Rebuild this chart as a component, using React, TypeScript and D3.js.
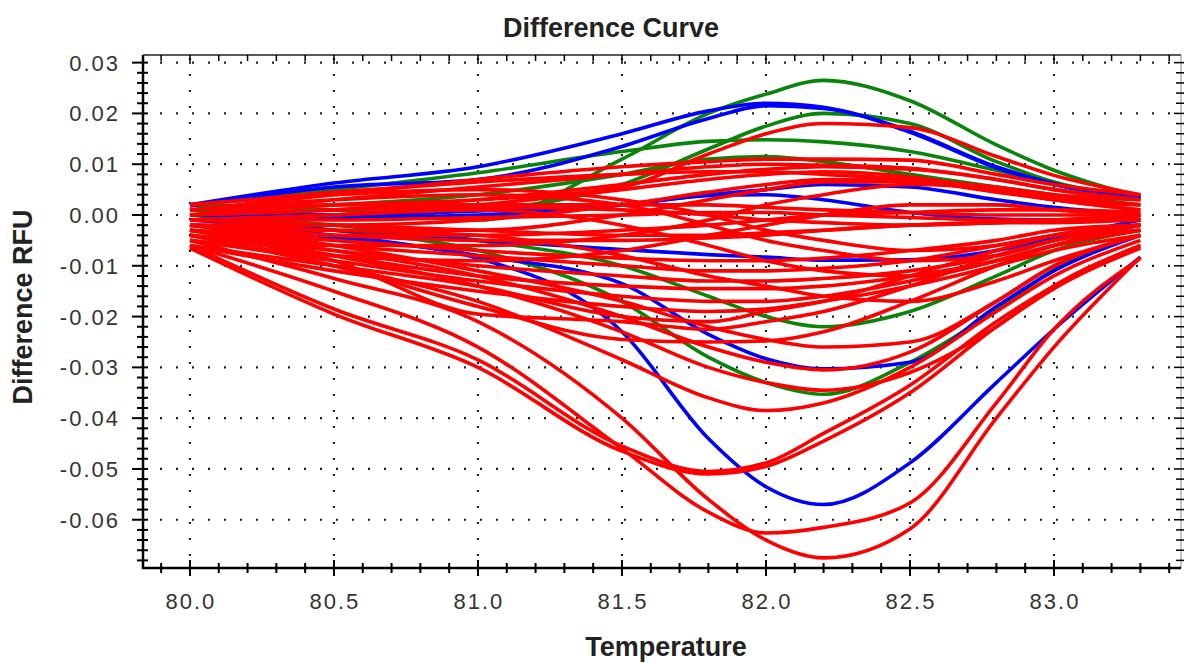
import React from 'react';
import * as d3 from 'd3';

const TEMPS = [80.0, 80.5, 81.0, 81.5, 81.8, 82.0, 82.2, 82.5, 82.8, 83.0, 83.3];

const GREEN_SERIES: number[][] = [
  [0.002, 0.001, -0.001, 0.011, 0.020, 0.0238, 0.0265, 0.0225, 0.0138, 0.0088, 0.0035],
  [0.001, 0.0, 0.001, 0.006, 0.013, 0.0175, 0.020, 0.018, 0.0105, 0.0065, 0.0035],
  [0.002, 0.005, 0.0083, 0.0125, 0.0145, 0.0148, 0.0144, 0.0125, 0.0088, 0.0062, 0.0035],
  [0.001, 0.002, 0.004, 0.008, 0.011, 0.0115, 0.0105, 0.008, 0.0055, 0.004, 0.002],
  [0.0, -0.003, -0.007, -0.017, -0.028, -0.033, -0.0353, -0.029, -0.0187, -0.0108, -0.004],
  [0.0, -0.002, -0.005, -0.010, -0.016, -0.020, -0.022, -0.019, -0.012, -0.007, -0.003],
];

const BLUE_SERIES: number[][] = [
  [0.002, 0.0063, 0.0095, 0.016, 0.0205, 0.022, 0.0212, 0.0165, 0.0095, 0.0062, 0.0035],
  [0.0018, 0.0055, 0.0070, 0.0135, 0.019, 0.0215, 0.021, 0.0163, 0.0093, 0.006, 0.0033],
  [-0.002, -0.0045, -0.0085, -0.023, -0.044, -0.0535, -0.057, -0.0488, -0.033, -0.0225, -0.0083],
  [-0.002, -0.004, -0.008, -0.0135, -0.0235, -0.0283, -0.0303, -0.029, -0.018, -0.011, -0.004],
  [0.0, -0.0005, 0.0, 0.002, 0.004, 0.005, 0.006, 0.0055, 0.003, 0.0015, 0.0],
  [-0.001, -0.003, -0.005, -0.0068, -0.0078, -0.0083, -0.0089, -0.0088, -0.007, -0.0045, -0.001],
  [0.0, 0.0, 0.0008, 0.002, 0.0038, 0.004, 0.003, 0.0005, -0.0008, -0.001, -0.001],
];

const RED_SERIES: number[][] = [
  // deep curves
  [-0.005, -0.0125, -0.021, -0.040, -0.056, -0.064, -0.0675, -0.0618, -0.040, -0.026, -0.0083],
  [-0.006, -0.015, -0.026, -0.046, -0.0585, -0.0626, -0.0615, -0.0567, -0.037, -0.0225, -0.0085],
  [-0.006, -0.0185, -0.0285, -0.0455, -0.0505, -0.0488, -0.043, -0.0335, -0.021, -0.014, -0.006],
  [-0.0065, -0.0195, -0.030, -0.0465, -0.051, -0.0495, -0.0445, -0.035, -0.022, -0.0145, -0.0065],
  [-0.004, -0.010, -0.017, -0.0285, -0.036, -0.0385, -0.037, -0.030, -0.019, -0.012, -0.005],
  [-0.003, -0.008, -0.014, -0.023, -0.030, -0.033, -0.0345, -0.031, -0.022, -0.014, -0.006],
  [-0.003, -0.007, -0.012, -0.020, -0.026, -0.029, -0.0305, -0.027, -0.017, -0.010, -0.004],
  [-0.002, -0.006, -0.011, -0.017, -0.022, -0.0245, -0.026, -0.025, -0.017, -0.010, -0.004],
  [-0.004, -0.010, -0.018, -0.0245, -0.025, -0.0248, -0.023, -0.017, -0.010, -0.006, -0.002],
  [-0.003, -0.009, -0.0195, -0.021, -0.0225, -0.021, -0.019, -0.014, -0.008, -0.005, -0.002],
  // upper red
  [0.0, 0.002, 0.003, 0.0055, 0.012, 0.016, 0.018, 0.0172, 0.0115, 0.0078, 0.004],
  // middle bundle
  [0.001, 0.004, 0.007, 0.0095, 0.0105, 0.011, 0.011, 0.0108, 0.008, 0.006, 0.004],
  [0.0, 0.003, 0.0055, 0.008, 0.0095, 0.010, 0.0098, 0.0092, 0.007, 0.005, 0.003],
  [0.0, 0.001, 0.003, 0.006, 0.008, 0.009, 0.0095, 0.009, 0.007, 0.005, 0.003],
  [-0.001, 0.0, 0.002, 0.005, 0.007, 0.008, 0.0085, 0.0075, 0.005, 0.0035, 0.002],
  [-0.002, -0.002, -0.001, 0.002, 0.0045, 0.006, 0.007, 0.007, 0.005, 0.003, 0.002],
  [-0.002, -0.003, -0.003, 0.0, 0.003, 0.005, 0.0065, 0.0065, 0.0045, 0.003, 0.001],
  [0.001, 0.002, 0.002, 0.002, 0.002, 0.0015, 0.001, 0.0005, 0.0, 0.0, 0.0],
  [0.0, 0.001, 0.0015, 0.001, 0.0, -0.001, -0.0015, -0.002, -0.0015, -0.001, 0.0],
  [-0.001, -0.001, -0.0005, 0.0, 0.0005, 0.0005, 0.0, -0.0005, -0.001, -0.001, -0.001],
  [-0.001, -0.002, -0.003, -0.004, -0.004, -0.0035, -0.003, -0.002, -0.0015, -0.001, -0.0005],
  [-0.002, -0.004, -0.005, -0.005, -0.0045, -0.004, -0.003, -0.002, -0.0015, -0.0015, -0.001],
  [-0.003, -0.005, -0.007, -0.0085, -0.009, -0.009, -0.0085, -0.007, -0.005, -0.003, -0.002],
  [-0.003, -0.006, -0.008, -0.010, -0.011, -0.011, -0.0105, -0.009, -0.006, -0.004, -0.002],
  [-0.004, -0.007, -0.010, -0.012, -0.013, -0.013, -0.0125, -0.011, -0.008, -0.005, -0.003],
  [-0.004, -0.008, -0.012, -0.014, -0.0145, -0.0145, -0.014, -0.012, -0.009, -0.006, -0.003],
  [-0.005, -0.009, -0.013, -0.016, -0.017, -0.017, -0.016, -0.013, -0.009, -0.006, -0.003],
  [-0.004, -0.006, -0.006, -0.004, -0.001, 0.002, 0.004, 0.006, 0.005, 0.003, 0.001],
  [-0.005, -0.008, -0.009, -0.007, -0.004, -0.002, 0.0, 0.002, 0.002, 0.001, 0.0],
  [0.002, 0.004, 0.005, 0.003, 0.0, -0.003, -0.005, -0.007, -0.006, -0.004, -0.002],
  [0.001, 0.003, 0.004, 0.002, -0.002, -0.005, -0.007, -0.009, -0.008, -0.005, -0.002],
  [-0.001, 0.0, 0.001, -0.002, -0.006, -0.009, -0.011, -0.012, -0.009, -0.006, -0.003],
  [-0.002, -0.003, -0.004, -0.008, -0.012, -0.014, -0.016, -0.017, -0.013, -0.009, -0.004],
  [-0.006, -0.011, -0.015, -0.018, -0.019, -0.0185, -0.017, -0.014, -0.010, -0.007, -0.004],
  [-0.003, -0.004, -0.004, -0.003, -0.002, -0.001, 0.0, 0.0005, 0.001, 0.001, 0.0005],
  [0.002, 0.0045, 0.0065, 0.008, 0.0085, 0.0085, 0.008, 0.007, 0.0055, 0.004, 0.003],
  [-0.006, -0.010, -0.014, -0.020, -0.021, -0.019, -0.017, -0.012, -0.007, -0.004, -0.002],
];

const X_TICKS = [80.0, 80.5, 81.0, 81.5, 82.0, 82.5, 83.0];
const Y_TICKS = [0.03, 0.02, 0.01, 0.0, -0.01, -0.02, -0.03, -0.04, -0.05, -0.06];
const X_MINOR = d3.range(799, 835).map((v) => v / 10);
const Y_MINOR = d3.range(-34, 16).map((v) => v * 0.002);

const TITLE = 'Difference Curve';
const X_LABEL = 'Temperature';
const Y_LABEL = 'Difference RFU';

const W = 1186;
const H = 663;
const L = 143;
const R = 1181;
const T = 55;
const B = 568;

export default function App() {
  const x = d3.scaleLinear().domain([79.837, 83.441]).range([L, R]);
  const y = d3.scaleLinear().domain([-0.0695, 0.0315]).range([B, T]);
  const line = d3
    .line<number>()
    .x((_, i) => x(TEMPS[i]))
    .y((d) => y(d))
    .curve(d3.curveMonotoneX);

  const fmtX = d3.format('.1f');
  const f2 = d3.format('.2f');
  const fmtY = (v: number) => f2(v).replace('\u2212', '-');
  const tickFont = "'Liberation Sans', Arial, sans-serif";

  const renderSeries = (series: number[][], color: string, key: string) =>
    series.map((s, i) => (
      <path key={key + i} d={line(s) || ''} fill="none" stroke={color} strokeWidth={3.6} strokeLinejoin="round" />
    ));

  return (
    <svg width={W} height={H} style={{ position: 'absolute', left: 0, top: 0, background: '#fff' }}>
      <rect x={0} y={0} width={W} height={H} fill="#fff" />
      <defs>
        <clipPath id="plot">
          <rect x={L} y={T} width={R - L} height={B - T} />
        </clipPath>
      </defs>

      {/* grid */}
      <g stroke="#222" strokeWidth={2.2} strokeDasharray="2 14" strokeDashoffset={-1}>
        {X_TICKS.map((t) => (
          <line key={'gx' + t} x1={x(t)} x2={x(t)} y1={T + 2} y2={B} />
        ))}
        {Y_TICKS.map((t) => (
          <line key={'gy' + t} x1={L + 16} x2={R} y1={y(t)} y2={y(t)} />
        ))}
      </g>

      {/* curves */}
      <g clipPath="url(#plot)">
        {renderSeries(GREEN_SERIES, '#0a840a', 'g')}
        {renderSeries(BLUE_SERIES, '#0000ff', 'b')}
        {renderSeries(RED_SERIES, '#ff0000', 'r')}
      </g>

      {/* frame */}
      <line x1={L} x2={R} y1={T} y2={T} stroke="#222" strokeWidth={1.5} />
      <line x1={R} x2={R} y1={T} y2={B} stroke="#888" strokeWidth={1} />
      <line x1={L} x2={L} y1={T} y2={B + 1} stroke="#000" strokeWidth={2.5} />
      <line x1={L - 1} x2={R} y1={B} y2={B} stroke="#000" strokeWidth={2.5} />

      {/* ticks */}
      <g stroke="#000" strokeWidth={2}>
        {X_MINOR.map((t) => {
          const major = X_TICKS.some((m) => Math.abs(m - t) < 1e-6);
          const len = major ? 8 : 5;
          return (
            <g key={'xt' + t}>
              <line x1={x(t)} x2={x(t)} y1={B - len} y2={B + len} />
              <line x1={x(t)} x2={x(t)} y1={T} y2={T + (major ? 9 : 6)} strokeWidth={1.5} />
            </g>
          );
        })}
        {Y_MINOR.map((t) => {
          const major = Y_TICKS.some((m) => Math.abs(m - t) < 1e-6);
          return (
            <g key={'yt' + t}>
              <line x1={major ? L - 11 : L - 6} x2={L + 5} y1={y(t)} y2={y(t)} />
              <line x1={R - (major ? 7 : 5)} x2={R + 3} y1={y(t)} y2={y(t)} strokeWidth={1.5} />
            </g>
          );
        })}
      </g>

      {/* tick labels */}
      <g fontFamily={tickFont} fontSize={22} fill="#333" letterSpacing={2}>
        {X_TICKS.map((t) => (
          <text key={'xl' + t} x={x(t) + 1} y={609} textAnchor="middle">
            {fmtX(t)}
          </text>
        ))}
        {Y_TICKS.map((t) => (
          <text key={'yl' + t} x={120} y={y(t) + 8} textAnchor="end">
            {fmtY(t)}
          </text>
        ))}
      </g>

      {/* titles */}
      <g fontFamily={tickFont} fontWeight="bold" fill="#222" fontSize={27}>
        <text x={611} y={37} textAnchor="middle">
          {TITLE}
        </text>
        <text x={666} y={656} textAnchor="middle">
          {X_LABEL}
        </text>
        <text transform="translate(32,307) rotate(-90)" textAnchor="middle">
          {Y_LABEL}
        </text>
      </g>
    </svg>
  );
}
